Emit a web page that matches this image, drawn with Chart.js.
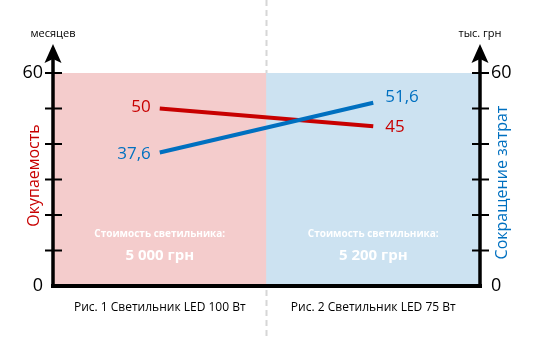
<!DOCTYPE html>
<html>
<head>
<meta charset="utf-8">
<script src="https://cdn.jsdelivr.net/npm/chart.js@4.4.1/dist/chart.umd.min.js"></script>
<style>
    html, body { margin: 0; padding: 0; background: #fff; }
    #wrap { width: 534px; height: 340px; position: relative; }
</style>
</head>
<body>
<div id="wrap"><canvas id="chart" width="534" height="340"></canvas></div>
<script>
// Chart data
const categories = ['Рис. 1 Светильник LED 100 Вт', 'Рис. 2 Светильник LED 75 Вт'];
const paybackMonths = [50, 45];
const costSavings = [37.6, 51.6];
const lampPrices = ['5 000 грн', '5 200 грн'];
const axisMax = 60;
const axisStep = 10;
const shownTicks = [0, 60];

const FONT = '"Open Sans", "Noto Sans", sans-serif';
const RED = '#c80000';
const BLUE = '#0070c0';

function fmt(v) {
    return String(v).replace('.', ',');
}

const decorPlugin = {
    id: 'decor',
    beforeDatasetsDraw(chart) {
        const ctx = chart.ctx;
        const x = chart.scales.x;
        const mid = (x.getPixelForValue(0) + x.getPixelForValue(1)) / 2;
        ctx.save();
        ctx.strokeStyle = '#d6d6d6';
        ctx.lineWidth = 2;
        ctx.setLineDash([6, 4]);
        ctx.beginPath();
        ctx.moveTo(mid, 0);
        ctx.lineTo(mid, chart.height);
        ctx.stroke();
        ctx.restore();
    },
    afterDatasetsDraw(chart) {
        const ctx = chart.ctx;
        const area = chart.chartArea;
        const y = chart.scales.y;
        const x = chart.scales.x;

        ctx.save();
        // Axes with arrows
        ctx.strokeStyle = '#000';
        ctx.fillStyle = '#000';
        ctx.lineWidth = 4;
        ctx.beginPath();
        ctx.moveTo(area.left - 2, area.bottom);
        ctx.lineTo(area.right + 2, area.bottom);
        ctx.stroke();

        [area.left, area.right].forEach(ax => {
            ctx.lineWidth = 3.5;
            ctx.beginPath();
            ctx.moveTo(ax, area.bottom + 2);
            ctx.lineTo(ax, 56);
            ctx.stroke();
            ctx.beginPath();
            ctx.moveTo(ax, 44);
            ctx.lineTo(ax + 8.5, 63);
            ctx.lineTo(ax, 59);
            ctx.lineTo(ax - 8.5, 63);
            ctx.closePath();
            ctx.fill();

            ctx.lineWidth = 2;
            for (let v = axisStep; v <= axisMax; v += axisStep) {
                const py = y.getPixelForValue(v);
                ctx.beginPath();
                ctx.moveTo(ax - 8, py);
                ctx.lineTo(ax + 9, py);
                ctx.stroke();
            }
        });

        // Units above axes
        ctx.font = '11px ' + FONT;
        ctx.textAlign = 'center';
        ctx.textBaseline = 'middle';
        ctx.fillText('месяцев', area.left, 34);
        ctx.fillText('тыс. грн', area.right, 34);

        // Axis titles
        const midY = (area.top + area.bottom) / 2;
        ctx.font = '16px ' + FONT;
        ctx.fillStyle = RED;
        ctx.save();
        ctx.translate(34, midY - 4);
        ctx.rotate(-Math.PI / 2);
        ctx.fillText('Окупаемость', 0, 0);
        ctx.restore();
        ctx.fillStyle = BLUE;
        ctx.save();
        ctx.translate(502, midY + 3);
        ctx.rotate(-Math.PI / 2);
        ctx.fillText('Сокращение затрат', 0, 0);
        ctx.restore();

        // Value labels
        ctx.font = '17px ' + FONT;
        [[1, RED, paybackMonths], [2, BLUE, costSavings]].forEach(([ds, color, values]) => {
            const meta = chart.getDatasetMeta(ds);
            ctx.fillStyle = color;
            meta.data.forEach((pt, i) => {
                if (i === 0) {
                    ctx.textAlign = 'right';
                    ctx.fillText(fmt(values[i]), pt.x - 9, pt.y + (ds === 2 ? 2 : -1));
                } else {
                    ctx.textAlign = 'left';
                    ctx.fillText(fmt(values[i]), pt.x + 12, pt.y + (ds === 2 ? -6 : 1));
                }
            });
        });

        // Lamp price captions
        ctx.fillStyle = '#fff';
        ctx.textAlign = 'center';
        lampPrices.forEach((price, i) => {
            const px = x.getPixelForValue(i);
            ctx.font = 'bold 10px ' + FONT;
            ctx.fillText('Стоимость светильника:', px, 234);
            ctx.font = 'bold 15px ' + FONT;
            ctx.fillText(price, px, 256);
        });
        ctx.restore();
    }
};

const ctx = document.getElementById('chart').getContext('2d');
const chart = new Chart(ctx, {
    type: 'line',
    data: {
        labels: categories,
        datasets: [
            {
                type: 'bar',
                data: categories.map(() => axisMax),
                backgroundColor: ['#f4cccc', '#cce2f1'],
                borderWidth: 0,
                barPercentage: 1,
                categoryPercentage: 1,
                yAxisID: 'y',
                order: 3
            },
            {
                label: 'Окупаемость',
                data: paybackMonths,
                borderColor: RED,
                borderWidth: 4,
                pointRadius: 0,
                yAxisID: 'y',
                order: 2
            },
            {
                label: 'Сокращение затрат',
                data: costSavings,
                borderColor: BLUE,
                borderWidth: 4,
                pointRadius: 0,
                yAxisID: 'y1',
                order: 1
            }
        ]
    },
    options: {
        responsive: false,
        animation: false,
        layout: {
            padding: { top: 73, left: 0, right: 0, bottom: 0 }
        },
        plugins: {
            legend: { display: false },
            tooltip: { enabled: false }
        },
        scales: {
            x: {
                offset: true,
                grid: { display: false, drawTicks: false },
                border: { display: false },
                ticks: {
                    color: '#000',
                    padding: 14,
                    maxRotation: 0,
                    font: { family: FONT, size: 12 }
                },
                afterFit: scale => { scale.height = 54; }
            },
            y: {
                min: 0,
                max: axisMax,
                grid: { display: false, drawTicks: false },
                border: { display: false },
                ticks: {
                    stepSize: axisStep,
                    color: '#000',
                    padding: 10,
                    font: { family: FONT, size: 18 },
                    callback: v => shownTicks.includes(v) ? v : ''
                },
                afterFit: scale => { scale.width = 53; }
            },
            y1: {
                position: 'right',
                min: 0,
                max: axisMax,
                grid: { display: false, drawTicks: false },
                border: { display: false },
                ticks: {
                    stepSize: axisStep,
                    color: '#000',
                    padding: 11,
                    font: { family: FONT, size: 18 },
                    callback: v => shownTicks.includes(v) ? v : ''
                },
                afterFit: scale => { scale.width = 54; }
            }
        }
    },
    plugins: [decorPlugin]
});
</script>
</body>
</html>
